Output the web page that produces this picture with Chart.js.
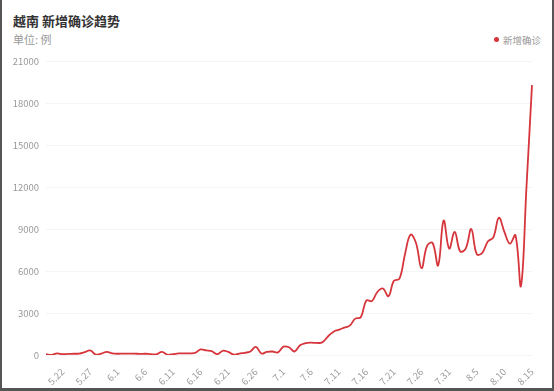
<!DOCTYPE html>
<html>
<head>
<meta charset="utf-8">
<script src="https://cdn.jsdelivr.net/npm/chart.js@4/dist/chart.umd.min.js"></script>
<style>
    html, body { margin: 0; padding: 0; background: #fff; }
    #frame {
        position: relative;
        width: 554px; height: 391px;
        box-sizing: border-box;
        border-left: 2px solid #555;
        border-right: 2px solid #555;
        border-bottom: 3px solid #555;
        overflow: hidden;
        font-family: "Noto Sans CJK SC", sans-serif;
    }
    #titulo { position: absolute; left: 11px; top: 11px; font-size: 13px; font-weight: bold; color: #333; }
    #unidad { position: absolute; left: 11px; top: 31px; font-size: 11px; color: #999; }
    #leyenda { position: absolute; left: 492px; top: 33px; font-size: 9.5px; color: #999; }
    #leyenda span { display: inline-block; width: 5px; height: 5px; border-radius: 50%; background: #d6353b; margin-right: 4px; vertical-align: 2px; }
    canvas { position: absolute; left: -2px; top: 0; }
</style>
</head>
<body>
<div id="frame">
    <div id="titulo">越南 新增确诊趋势</div>
    <div id="unidad">单位: 例</div>
    <div id="leyenda"><span></span>新增确诊</div>
    <canvas id="tendenciaChart" width="554" height="391"></canvas>
</div>
<script>
// Fechas (categorías)
const fechas = [
    "5.19", "5.20", "5.21", "5.22", "5.23", "5.24", "5.25", "5.26", "5.27", "5.28", "5.29", "5.30", "5.31",
    "6.1", "6.2", "6.3", "6.4", "6.5", "6.6", "6.7", "6.8", "6.9", "6.10", "6.11", "6.12", "6.13", "6.14", "6.15",
    "6.16", "6.17", "6.18", "6.19", "6.20", "6.21", "6.22", "6.23", "6.24", "6.25", "6.26", "6.27", "6.28", "6.29", "6.30",
    "7.1", "7.2", "7.3", "7.4", "7.5", "7.6", "7.7", "7.8", "7.9", "7.10", "7.11", "7.12", "7.13", "7.14", "7.15",
    "7.16", "7.17", "7.18", "7.19", "7.20", "7.21", "7.22", "7.23", "7.24", "7.25", "7.26", "7.27", "7.28", "7.29", "7.30", "7.31",
    "8.1", "8.2", "8.3", "8.4", "8.5", "8.6", "8.7", "8.8", "8.9", "8.10", "8.11", "8.12", "8.13", "8.14", "8.15"
];

// Nuevos casos confirmados por día
const nuevosCasos = [
    60, 10, 110, 60, 80, 90, 100, 200, 330, 30, 100, 220, 120,
    90, 100, 100, 100, 80, 90, 60, 50, 230, 20, 60, 110, 120, 120, 150,
    400, 330, 280, 60, 300, 220, 20, 100, 160, 250, 580, 110, 220, 250, 190,
    600, 550, 250, 700, 850, 880, 860, 900, 1300, 1650, 1800, 1950, 2100, 2600, 2700,
    3900, 3850, 4500, 4750, 4200, 5300, 5450, 7200, 8600, 8000, 6200, 7800, 8000, 6400, 9600, 7600,
    8800, 7400, 7600, 9000, 7200, 7300, 8100, 8400, 9800, 8800, 7950, 8550, 4930, 12000, 19280
];

// Etiquetas visibles del eje X (cada 5 días)
const etiquetasX = ["5.22", "5.27", "6.1", "6.6", "6.11", "6.16", "6.21", "6.26", "7.1", "7.6",
    "7.11", "7.16", "7.21", "7.26", "7.31", "8.5", "8.10", "8.15"];

// Marcas del eje Y
const maxY = 21000;
const pasoY = 3000;

const ctx = document.getElementById("tendenciaChart").getContext("2d");
new Chart(ctx, {
    type: "line",
    data: {
        labels: fechas,
        datasets: [{
            label: "新增确诊",
            data: nuevosCasos,
            borderColor: "#d6353b",
            backgroundColor: "#d6353b",
            borderWidth: 1.8,
            pointRadius: 0,
            tension: 0.4,
            fill: false
        }]
    },
    options: {
        responsive: false,
        animation: false,
        layout: { padding: { top: 61, right: 22, left: 0, bottom: 0 } },
        plugins: {
            legend: { display: false },
            tooltip: { enabled: false }
        },
        scales: {
            x: {
                grid: { display: false },
                border: { display: false },
                afterFit: (scale) => { scale.height = 36; },
                ticks: {
                    autoSkip: false,
                    minRotation: 45,
                    maxRotation: 45,
                    padding: 3,
                    color: "#999",
                    font: { size: 9.5, family: "'Noto Sans CJK SC', sans-serif" },
                    callback: function (valor, indice) {
                        const etiqueta = fechas[indice];
                        return etiquetasX.includes(etiqueta) ? etiqueta : null;
                    }
                }
            },
            y: {
                min: 0,
                max: maxY,
                grid: { color: "#f4f4f4", drawTicks: false },
                border: { display: false },
                afterFit: (scale) => { scale.width = 46; },
                ticks: {
                    stepSize: pasoY,
                    padding: 7,
                    color: "#999",
                    font: { size: 9.5, family: "'Noto Sans CJK SC', sans-serif" },
                    callback: (valor) => String(valor)
                }
            }
        }
    }
});
</script>
</body>
</html>
